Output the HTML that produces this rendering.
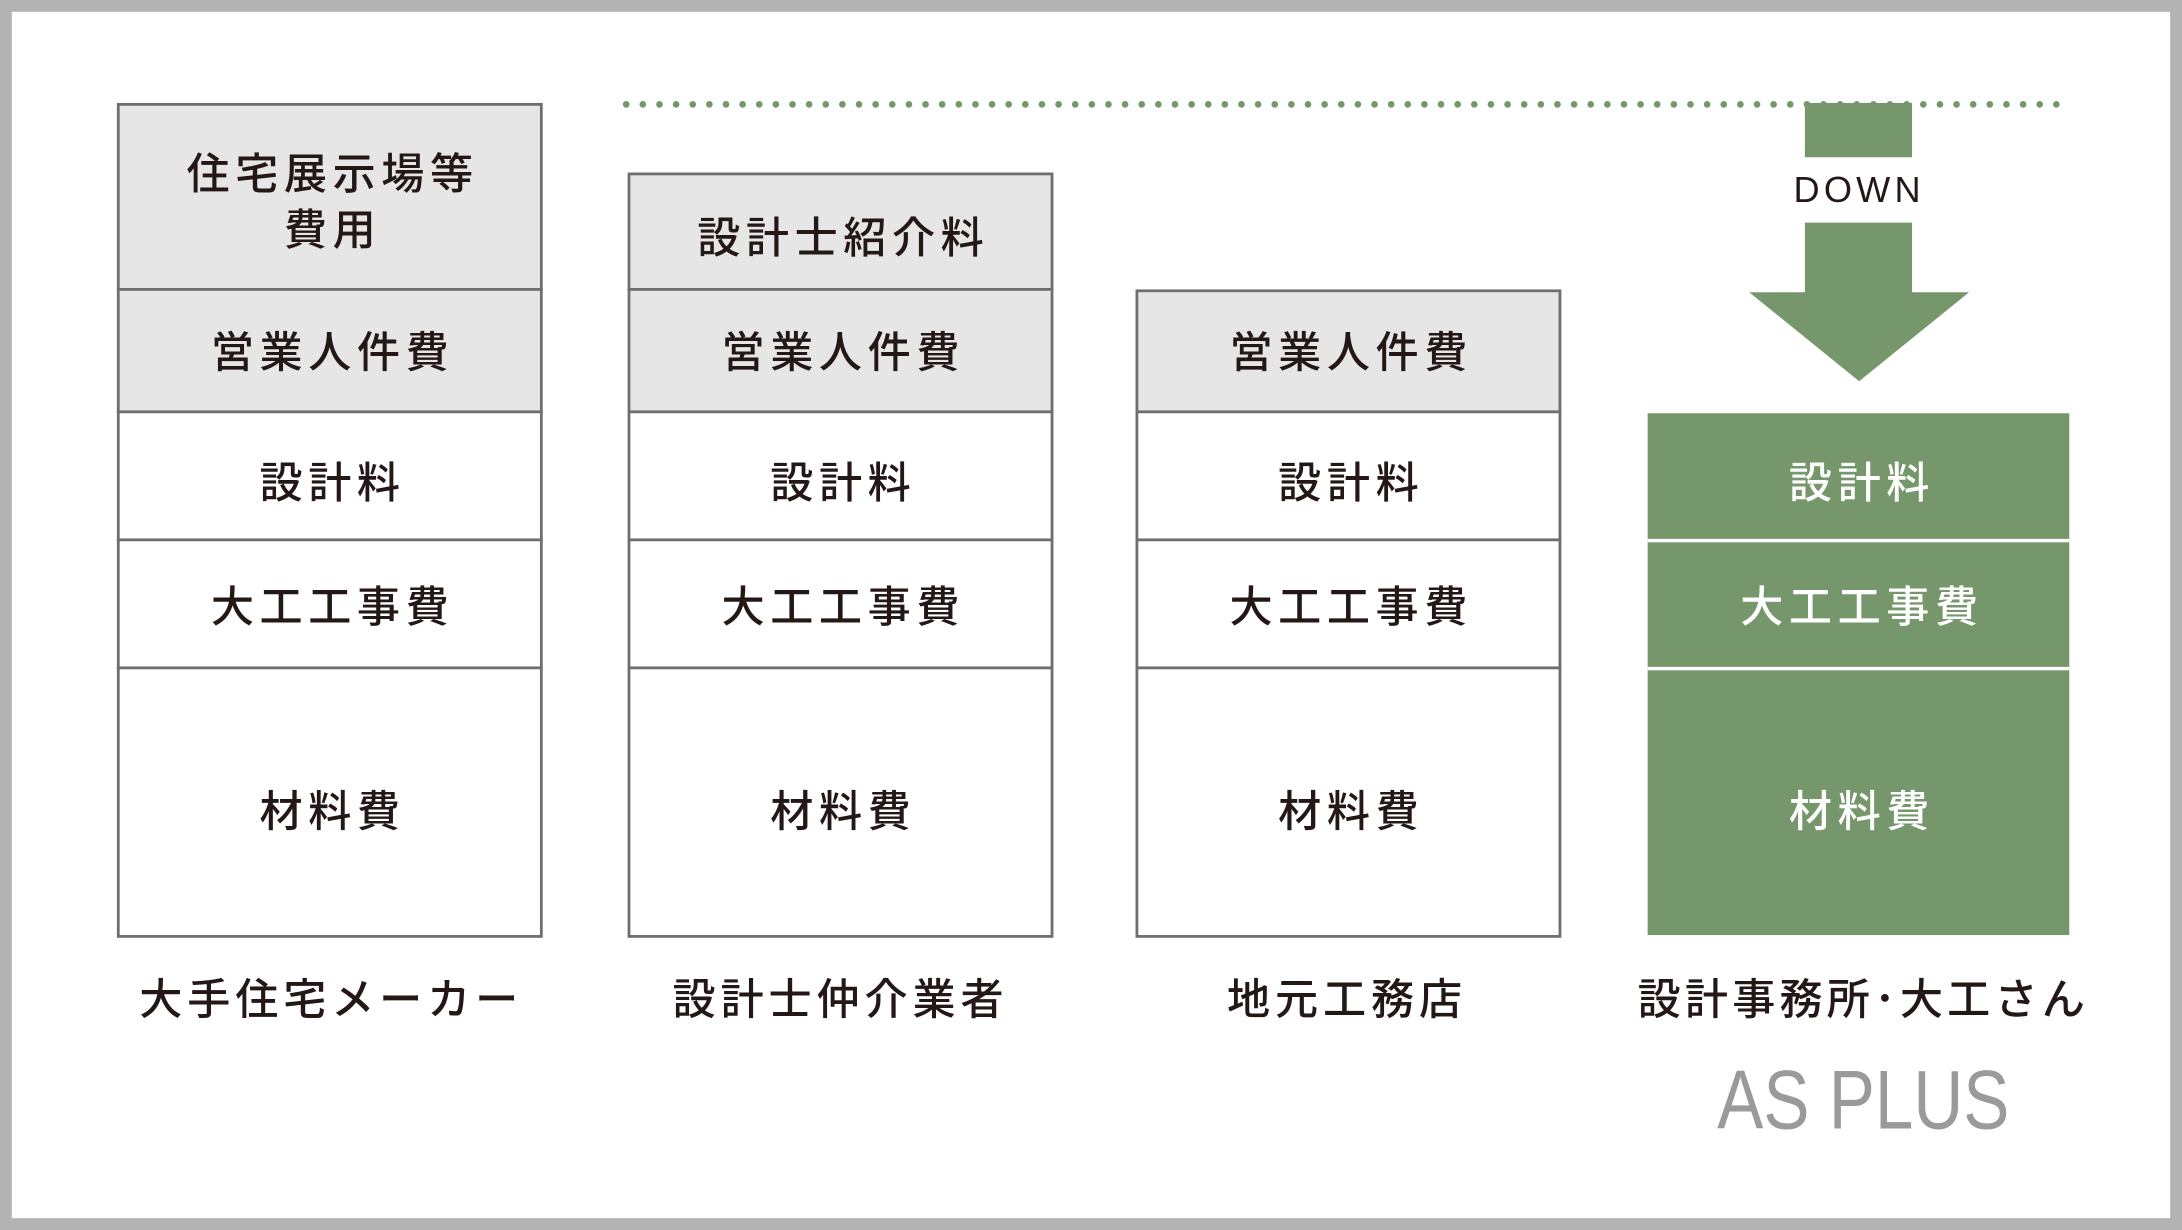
<!DOCTYPE html>
<html><head><meta charset="utf-8"><style>
html,body{margin:0;padding:0;background:#fff}
svg{display:block}
text{font-family:"Liberation Sans","Noto Sans CJK JP",sans-serif}
.j{font-family:"Noto Sans CJK JP",sans-serif;font-weight:500;fill:#231815}
</style></head><body>
<svg width="2182" height="1230" viewBox="0 0 1568 884" preserveAspectRatio="none" xmlns="http://www.w3.org/2000/svg">
<rect x="4" y="4" width="1560" height="876" fill="#fff" stroke="#b3b3b3" stroke-width="9"/>
<line x1="450" y1="75" x2="1483" y2="75" stroke="#76976b" stroke-width="4.8" stroke-linecap="round" stroke-dasharray="0 11.95"/>
<g fill="#76976b">
<rect x="1297" y="74" width="77" height="39"/>
<polygon points="1297,160 1374,160 1374,210 1415,210 1336,274 1257,210 1297,210"/>
<rect x="1184" y="297" width="303" height="375"/>
</g>
<g stroke="#fff" stroke-width="2.5"><line x1="1184" y1="388.5" x2="1487" y2="388.5"/><line x1="1184" y1="480.5" x2="1487" y2="480.5"/></g>
<text x="1336" y="145" font-size="26" text-anchor="middle" letter-spacing="3" fill="#231815">DOWN</text>
<g fill="#e6e6e6" stroke="#6e6e6e" stroke-width="2">
<rect x="85" y="75" width="304" height="133"/><rect x="85" y="208" width="304" height="88"/>
<rect x="452" y="125" width="304" height="83"/><rect x="452" y="208" width="304" height="88"/>
<rect x="817" y="209" width="304" height="87"/>
</g>
<g fill="#fff" stroke="#6e6e6e" stroke-width="2">
<rect x="85" y="296" width="304" height="92"/><rect x="85" y="388" width="304" height="92"/><rect x="85" y="480" width="304" height="193"/>
<rect x="452" y="296" width="304" height="92"/><rect x="452" y="388" width="304" height="92"/><rect x="452" y="480" width="304" height="193"/>
<rect x="817" y="296" width="304" height="92"/><rect x="817" y="388" width="304" height="92"/><rect x="817" y="480" width="304" height="193"/>
</g>
<g class="j" font-size="31" text-anchor="middle" letter-spacing="4">
<text x="239" y="136">住宅展示場等</text><text x="239" y="176">費用</text>
<text x="239" y="264">営業人件費</text><text x="239" y="358">設計料</text><text x="239" y="447">大工工事費</text><text x="239" y="594">材料費</text>
<text x="606" y="182">設計士紹介料</text>
<text x="606" y="264">営業人件費</text><text x="606" y="358">設計料</text><text x="606" y="447">大工工事費</text><text x="606" y="594">材料費</text>
<text x="971" y="264">営業人件費</text><text x="971" y="358">設計料</text><text x="971" y="447">大工工事費</text><text x="971" y="594">材料費</text>
</g>
<g font-family="Noto Sans CJK JP,sans-serif" font-weight="500" font-size="31" text-anchor="middle" letter-spacing="4" fill="#fff">
<text x="1338" y="358">設計料</text><text x="1338" y="447">大工工事費</text><text x="1338" y="594">材料費</text>
</g>
<g class="j" font-size="31" text-anchor="middle" letter-spacing="3.5">
<text x="238" y="729">大手住宅メーカー</text>
<text x="604" y="729">設計士仲介業者</text>
<text x="968" y="729">地元工務店</text>
<text x="1339" y="729" letter-spacing="3">設計事務所･大工さん</text>
</g>
<text x="1339" y="811" font-size="60" text-anchor="middle" fill="#9a9a9a" textLength="210" lengthAdjust="spacingAndGlyphs" style="font-family:'Liberation Sans Narrow','Liberation Sans',sans-serif">AS PLUS</text>
</svg>
</body></html>
